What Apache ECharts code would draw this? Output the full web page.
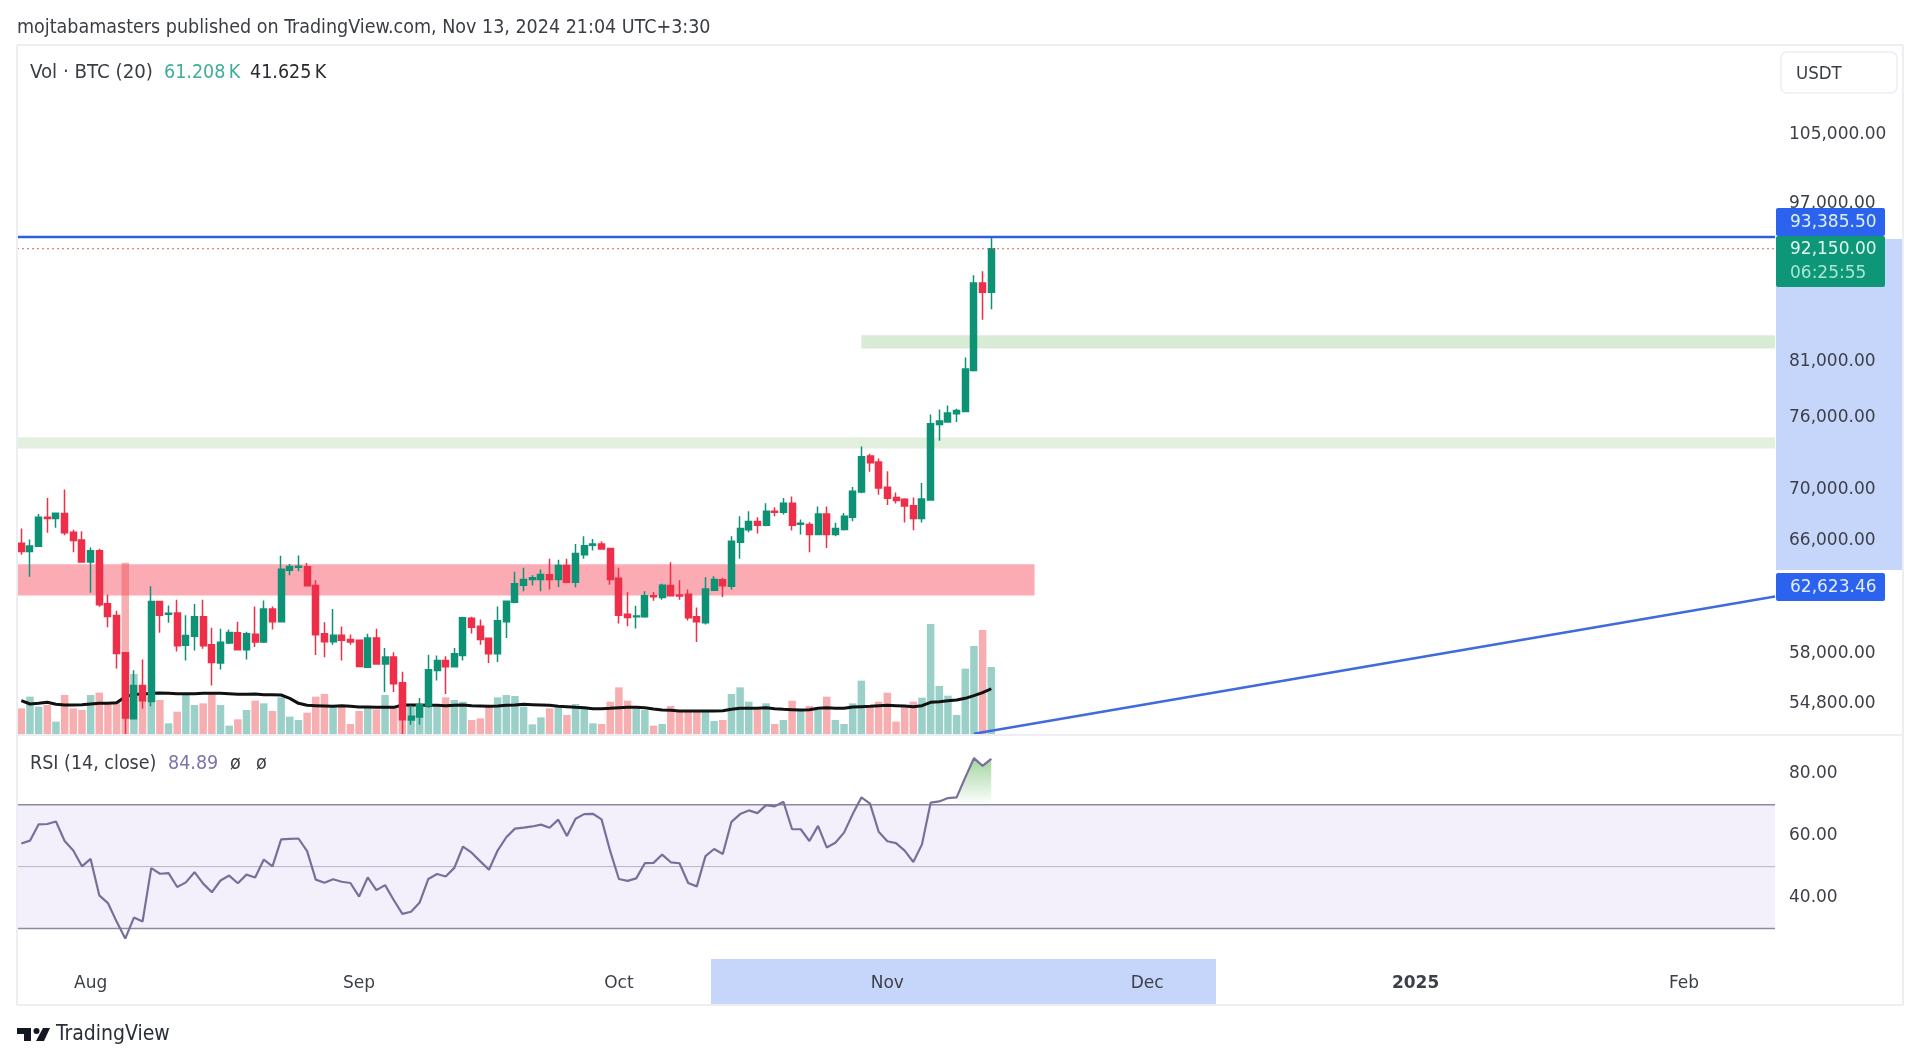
<!DOCTYPE html>
<html>
<head>
<meta charset="utf-8">
<style type="text/css">
html,body{margin:0;padding:0;background:#fff}
#main{width:1920px;height:1063px}
</style>
</head>
<body>
<div id="main"></div>
<script src="https://cdn.jsdelivr.net/npm/echarts@6/dist/echarts.min.js"></script>
<script type="text/javascript">
// daily candles (Jul 24 - Nov 13 2024)
var opens = [
65810,65195,65580,67802,67700,68082,66650,66065,64423,65246,
61414,60594,58070,53860,55940,54925,61574,60685,60776,58565,
59180,60503,58610,57402,58724,59408,58268,59317,58793,61050,
60160,63820,64037,64061,62709,59340,58815,59250,58952,58906,
57123,59066,57338,57790,56113,53777,53960,54680,56908,57553,
57145,57897,60411,59864,59043,58004,60160,61528,62733,63143,
63143,63481,63143,64157,62950,64950,65656,65757,65425,63240,
60685,60503,60503,61985,61862,62709,62033,62082,60503,60092,
62370,63119,62660,65885,66831,67470,67189,68262,68185,68900,
67265,67240,66475,68056,66475,66856,67802,69774,72707,72213,
70155,69337,69198,68700,67710,69142,75384,75590,76311,76517,
80183,88614,87686];
var closes = [
65195,65605,67802,67700,68108,66600,66015,64423,65246,61346,
60525,58025,53900,55940,54970,61574,60616,60753,58540,59226,
60503,58540,57424,58770,59430,58268,59340,58793,61050,60160,
63892,64085,64110,62685,59272,58815,59250,58906,58793,57166,
59066,57338,57790,56048,53797,54000,54720,56950,57553,57145,
58004,60434,59795,58952,58004,60229,61597,62830,63143,63264,
63505,63143,64157,62950,65050,65630,65757,65375,63143,60616,
60457,60571,61985,61910,62733,61985,61960,60434,60160,62467,
63143,62685,65962,66933,67470,67189,68262,68185,68900,67189,
67342,66475,68056,66475,66933,67878,69841,72651,72156,70098,
69280,69118,68668,67710,69222,75444,75676,76371,76603,80310,
88614,87686,92150];
var highs = [
66933,66090,68056,69300,68160,69976,66831,66729,65503,65400,
62057,60935,58112,56930,57618,62660,61574,61300,61700,60616,
61392,61700,59750,59682,59636,60160,59476,61232,61654,61232,
64880,64278,64905,64350,63095,60137,61050,59841,59294,58952,
59340,59682,58382,58112,56822,54680,55140,57940,57897,57832,
58382,60503,60503,60320,59066,61232,61597,63700,63988,63457,
63868,64664,64592,64664,65757,66345,66140,65962,65477,63988,
62226,61278,62298,62250,62830,64400,63095,62419,61160,63312,
63384,63264,66345,67878,68262,67802,68900,68568,69300,69435,
67623,67419,68645,68645,67368,68133,70193,73501,72902,72513,
71460,69742,69280,69337,70511,76251,76690,77042,76750,81384,
89410,89818,93385.5];
var lows = [
64950,63336,65580,66600,66985,66420,65147,64400,62200,61210,
59795,57037,52800,53860,54470,54620,59408,60092,58155,57553,
58220,58337,55940,56972,58655,58220,57618,58450,58724,59636,
60160,63457,63747,62660,57918,57768,58610,57553,58610,57123,
57080,57295,55530,55530,52800,53490,53490,54515,56263,55405,
57123,57553,59362,58610,57402,57467,59066,61460,62298,62709,
62298,62419,62612,62877,62588,64664,65270,65320,62757,60046,
59864,59704,60434,61620,61700,61985,61700,60252,58793,59978,
62346,61888,62419,64664,66650,66550,67112,67878,68005,66780,
66475,65147,66420,65452,66345,66780,67495,69685,71419,69556,
68745,68876,67400,66805,67400,69100,73991,75530,75590,76457,
80092,84970,85990];
// volume in thousands BTC
var volumes = [
24,34.5,25.5,27,12,36,24,22.5,36,38.1,
28.5,30,155.1,54.9,33,34.5,31.5,10.5,21,36,
27,28.5,37.5,27,8.4,14.1,22.5,30.9,28.5,21.6,
33.9,16.5,13.5,20.1,34.5,36.9,25.5,27,9.9,21.6,
25.5,23.1,36,25.5,46.5,27,25.5,27,25.5,33.9,
31.5,30,13.5,15,25.5,33.9,36,35.1,25.5,9.6,
15.9,24,24.9,18,27.9,25.5,10.5,9.9,30,42.9,
30.9,24,22.5,8.4,9.9,26.1,22.5,21,21,21,
12.6,13.5,36.9,42.9,30,22.5,28.5,9.9,13.5,30.9,
22.5,26.1,22.5,34.5,13.5,9.9,28.5,48.9,27,30,
38.1,12,25.5,30,33.6,99.9,44.1,35.4,18,59.7,
80.1,94.5,61.208];
var volumeMa = [
30.9,27.9,28.5,29.4,27.6,27,27,27.3,27.9,28.5,
28.5,29.1,34.5,36.6,36.6,37.5,37.8,37.5,37.2,37.2,
37.2,37.5,37.5,37.5,37.2,36.6,36.6,36.9,36.3,36.3,
36,33,28.5,26.7,26.4,26.1,25.8,26.4,25.8,25.2,
25.2,24.9,24.9,24.9,27,27,27,26.7,26.7,26.4,
26.7,27,26.4,26.1,25.8,26.1,26.7,27,27.6,27.3,
27,26.7,25.8,25.5,24.9,24.6,23.7,23.7,24,24.6,
24.9,24.9,24.6,23.4,22.5,22.2,21.6,21.6,21.6,21.6,
21.6,21.9,23.1,24,24,24,24.6,23.7,23.1,22.8,
22.5,22.8,24,24.6,24,24,25.2,25.5,25.8,26.4,
26.7,26.4,26.1,25.5,26.4,29.4,30,30.9,31.5,33,
35.4,38.1,41.625];
var rsiValues = [
57.5,58.4,63.7,63.8,64.6,58.3,55.2,50.1,52.5,40.7,
38.2,32.2,26.7,33.5,32.2,49.5,47.7,47.9,43.4,44.9,
48.2,44.5,41.7,45.5,47.1,44.6,47.4,46.5,52.3,50.1,
58.8,59,59.1,55,45.8,44.8,45.9,45.1,44.7,40.3,
46.5,42.4,44,39.2,34.7,35.4,38.4,46,47.6,46.8,
49.6,56.5,54.5,51.7,49,55.2,59.5,62.3,62.6,63,
63.6,62.6,65.2,59.9,65.5,67,67.1,65.3,55,46,
45.4,46.2,51.1,51.2,53.9,51.4,51.1,44.7,43.6,53.4,
55.7,54.1,64.5,67,68.2,67.3,69.9,69.5,71,62.1,
62.1,58.3,63.2,56.2,57.7,61,67,72.4,70.4,61.3,
58.2,57.6,55.2,51.5,57.2,70.7,71.1,72.2,72.4,78.9,
85.1,82.6,84.89];

var slotCount = 203;            // days on the time scale, most of them empty
var timeTickIndex = [8,39,69,100,130,161,192];
var timeTickLabel = ['Aug','Sep','Oct','Nov','Dec','2025','Feb'];
var priceTicks = [105000,97000,81000,76000,70000,66000,58000,54800];
var rsiTicks = [80,60,40];
var rsiLevels = [70,50,30];

// drawn zones, in price
var zoneStart = [97,0,0];
var zoneEnd = [202,202,117];
var zoneHigh = [83474,74291,64254];
var zoneLow = [82225,73344,62007];
var zoneColor = ['#d8ebd5','#e3f0df','#fbabb3'];
var lineHigh = 93385.5;
var lineLast = 92150;
var trendStart = [110,52940];
var trendEndPrice = 61930;

var categories = [];
for (var c = 0; c < slotCount; c++) categories.push(String(c));

var chart = echarts.init(document.getElementById('main'));

function renderZone(params, api) {
    var cs = params.coordSys, i = params.dataIndex;
    var a = api.coord([zoneStart[i], zoneHigh[i]]);
    var b = api.coord([zoneEnd[i], zoneLow[i]]);
    var x0 = zoneStart[i] == 0 ? cs.x : a[0];
    var x1 = zoneEnd[i] == slotCount - 1 ? cs.x + cs.width : b[0];
    return {type: 'rect', shape: {x: x0, y: a[1], width: x1 - x0, height: b[1] - a[1]}, style: {fill: zoneColor[i]}};
}
function renderPriceLine(params, api) {
    var cs = params.coordSys;
    var y = api.coord([0, api.value(1)])[1];
    var high = params.dataIndex == 0;
    return {type: 'line', shape: {x1: cs.x, y1: y, x2: cs.x + cs.width, y2: y},
        style: high ? {stroke: '#2c5fdc', lineWidth: 2.5} : {stroke: '#e0605f', lineWidth: 1, lineDash: [2, 3]}};
}
function renderTrend(params, api) {
    var cs = params.coordSys;
    var a = api.coord(trendStart);
    var b = api.coord([0, trendEndPrice]);
    return {type: 'line', shape: {x1: a[0], y1: a[1], x2: cs.x + cs.width, y2: b[1]}, style: {stroke: '#3f6bdc', lineWidth: 2.5}};
}
function renderRsiBand(params, api) {
    var cs = params.coordSys;
    var a = api.coord([0, 70]), b = api.coord([0, 30]);
    return {type: 'rect', shape: {x: cs.x, y: a[1], width: cs.width, height: b[1] - a[1]}, style: {fill: '#f3f0fb'}};
}
function renderRsiLevel(params, api) {
    var cs = params.coordSys;
    var y = api.coord([0, api.value(1)])[1];
    var mid = api.value(1) == 50;
    return {type: 'line', shape: {x1: cs.x, y1: y, x2: cs.x + cs.width, y2: y},
        style: {stroke: mid ? '#b9b4c8' : '#8e8c9c', lineWidth: mid ? 1 : 1.5}};
}

function text(x, y, str, color, font) {
    return {type: 'text', z: 110, style: {x: x, y: y + 1.5, text: str, fill: color, font: font, verticalAlign: 'middle'}};
}
function tag(y, h, color) {
    return {type: 'rect', z: 100, shape: {x: 1776, y: y, width: 109, height: h, r: 2}, style: {fill: color}};
}
function rule(x1, y1, x2, y2) {
    return {type: 'line', z: 50, shape: {x1: x1, y1: y1, x2: x2, y2: y2}, style: {stroke: '#eceef2', lineWidth: 2}};
}

var uiFont = '"DejaVu Sans Condensed","DejaVu Sans",sans-serif';
var numFont = '"DejaVu Sans",sans-serif';

var option = {
    animation: false,
    backgroundColor: '#ffffff',
    grid: [
        {left: 17, right: 145, top: 45, height: 690},
        {left: 17, right: 145, top: 735, height: 224}
    ],
    xAxis: [
        {type: 'category', gridIndex: 0, data: categories, show: false},
        {type: 'category', gridIndex: 1, data: categories,
            axisLine: {show: false}, axisTick: {show: false},
            axisLabel: {
                interval: function (i) { return timeTickIndex.indexOf(i) >= 0; },
                formatter: function (v, i) {
                    var s = timeTickLabel[timeTickIndex.indexOf(i)];
                    return s == '2025' ? '{b|' + s + '}' : s;
                },
                margin: 16, color: '#3c3f47', fontSize: 17, fontFamily: numFont,
                rich: {b: {fontWeight: 'bold', fontSize: 17, color: '#3c3f47', fontFamily: numFont}}
            }
        }
    ],
    yAxis: [
        {type: 'log', gridIndex: 0, position: 'right', min: 52862, max: 116308, logBase: 10,
            axisLine: {show: false}, axisTick: {show: false}, splitLine: {show: false},
            axisLabel: {customValues: priceTicks, margin: 14, color: '#3c3f47', fontSize: 17, fontFamily: numFont, padding: [2, 0, 0, 0],
                formatter: function (v) { return Math.round(v).toLocaleString('en-US') + '.00'; }}
        },
        {type: 'value', gridIndex: 0, min: 0, max: 621, show: false},
        {type: 'value', gridIndex: 1, position: 'right', min: 20.1, max: 92.6,
            axisLine: {show: false}, axisTick: {show: false}, splitLine: {show: false},
            axisLabel: {customValues: rsiTicks, margin: 14, color: '#3c3f47', fontSize: 17, fontFamily: numFont, padding: [7, 0, 0, 0],
                formatter: function (v) { return v.toFixed(2); }}
        }
    ],
    series: [
        {name: 'zones', type: 'custom', xAxisIndex: 0, yAxisIndex: 0, z: 1, renderItem: renderZone,
            encode: {x: 0, y: 1}, data: zoneStart.map(function (s, i) { return [s, zoneHigh[i]]; })},
        {name: 'Vol', type: 'bar', xAxisIndex: 0, yAxisIndex: 1, z: 2, barWidth: 7.5, data: volumes,
            itemStyle: {color: function (p) {
                return closes[p.dataIndex] >= opens[p.dataIndex] ? 'rgba(34,150,135,0.45)' : 'rgba(238,85,90,0.48)';
            }}},
        {name: 'Vol MA', type: 'line', xAxisIndex: 0, yAxisIndex: 1, z: 3, data: volumeMa, showSymbol: false,
            lineStyle: {color: '#111111', width: 3}},
        {name: 'BTC', type: 'candlestick', xAxisIndex: 0, yAxisIndex: 0, z: 4, barWidth: 6.5,
            data: opens.map(function (o, i) { return [o, closes[i], lows[i], highs[i]]; }),
            itemStyle: {color: '#0e9275', color0: '#ee2f49', borderColor: '#0e9275', borderColor0: '#ee2f49', borderWidth: 1.5}},
        {name: 'levels', type: 'custom', xAxisIndex: 0, yAxisIndex: 0, z: 5, renderItem: renderPriceLine,
            encode: {x: 0, y: 1}, data: [[0, lineHigh], [0, lineLast]]},
        {name: 'trend', type: 'custom', xAxisIndex: 0, yAxisIndex: 0, z: 5, renderItem: renderTrend,
            encode: {x: 0, y: 1}, data: [trendStart]},
        {name: 'rsi band', type: 'custom', xAxisIndex: 1, yAxisIndex: 2, z: 1, renderItem: renderRsiBand,
            encode: {x: 0, y: 1}, data: [[0, 50]]},
        {name: 'rsi levels', type: 'custom', xAxisIndex: 1, yAxisIndex: 2, z: 2, renderItem: renderRsiLevel,
            encode: {x: 0, y: 1}, data: rsiLevels.map(function (v) { return [0, v]; })},
        {name: 'overbought', type: 'line', xAxisIndex: 1, yAxisIndex: 2, z: 2, showSymbol: false,
            data: rsiValues.map(function (v, i) { return i >= 108 ? v : null; }),
            lineStyle: {width: 0},
            areaStyle: {origin: 70, opacity: 1, color: new echarts.graphic.LinearGradient(0, 0, 0, 1, [
                {offset: 0, color: '#a3d5a0'}, {offset: 1, color: 'rgba(163,213,160,0)'}])}},
        {name: 'RSI', type: 'line', xAxisIndex: 1, yAxisIndex: 2, z: 3, data: rsiValues, showSymbol: false,
            lineStyle: {color: '#7a6f9b', width: 2.2}}
    ],
    graphic: {elements: [
        // frame
        rule(17, 45, 1903, 45), rule(17, 45, 17, 1005), rule(1903, 45, 1903, 1005), rule(17, 1005, 1903, 1005), rule(17, 735, 1903, 735),
        // selected range on the scales
        {type: 'rect', z: -1, shape: {x: 1776, y: 239, width: 127, height: 331}, style: {fill: '#c6d6fa'}},
        {type: 'rect', z: -1, shape: {x: 711, y: 959, width: 505, height: 46}, style: {fill: '#c6d6fa'}},
        // captions
        text(17, 26, 'mojtabamasters published on TradingView.com, Nov 13, 2024 21:04 UTC+3:30', '#3a3d44', '19.5px ' + uiFont),
        text(30, 71, 'Vol · BTC (20)', '#3a3d44', '20.3px ' + uiFont),
        text(164, 71, '61.208\u2009K', '#3fae99', '19.5px ' + uiFont),
        text(250, 71, '41.625\u2009K', '#2a2a2e', '19.5px ' + uiFont),
        text(30, 762, 'RSI (14, close)', '#3a3d44', '19.5px ' + uiFont),
        text(168, 762, '84.89', '#7e74a8', '19.5px ' + uiFont),
        text(230, 762, 'ø', '#3a3d44', '19.5px ' + uiFont),
        text(256, 762, 'ø', '#3a3d44', '19.5px ' + uiFont),
        // currency box
        {type: 'rect', z: 50, shape: {x: 1781, y: 52, width: 116, height: 41, r: 6}, style: {fill: '#fff', stroke: '#eceef2', lineWidth: 1.5}},
        text(1796, 73, 'USDT', '#3a3d44', '18.5px ' + uiFont),
        // price tags
        tag(208, 28, '#2b62ee'),
        tag(236, 51, '#0e9679'),
        tag(573, 28, '#2b62ee'),
        text(1790, 221, '93,385.50', '#dff2ee', '17px ' + numFont),
        text(1790, 248, '92,150.00', '#dff7ef', '17px ' + numFont),
        text(1790, 272, '06:25:55', '#a8e6d2', '17px ' + numFont),
        text(1790, 586, '62,623.46', '#e4ecfd', '17px ' + numFont),
        // logo
        {type: 'polygon', z: 60, shape: {points: [[17, 1028], [31, 1028], [31, 1041], [24, 1041], [24, 1034], [17, 1034]]}, style: {fill: '#131722'}},
        {type: 'circle', z: 60, shape: {cx: 36.5, cy: 1031, r: 3}, style: {fill: '#131722'}},
        {type: 'polygon', z: 60, shape: {points: [[36, 1041], [43, 1028], [50, 1028], [44, 1041]]}, style: {fill: '#131722'}},
        text(56, 1033, 'TradingView', '#2a2e39', '21px ' + uiFont)
    ]}
};
chart.setOption(option);
</script>
</body>
</html>
